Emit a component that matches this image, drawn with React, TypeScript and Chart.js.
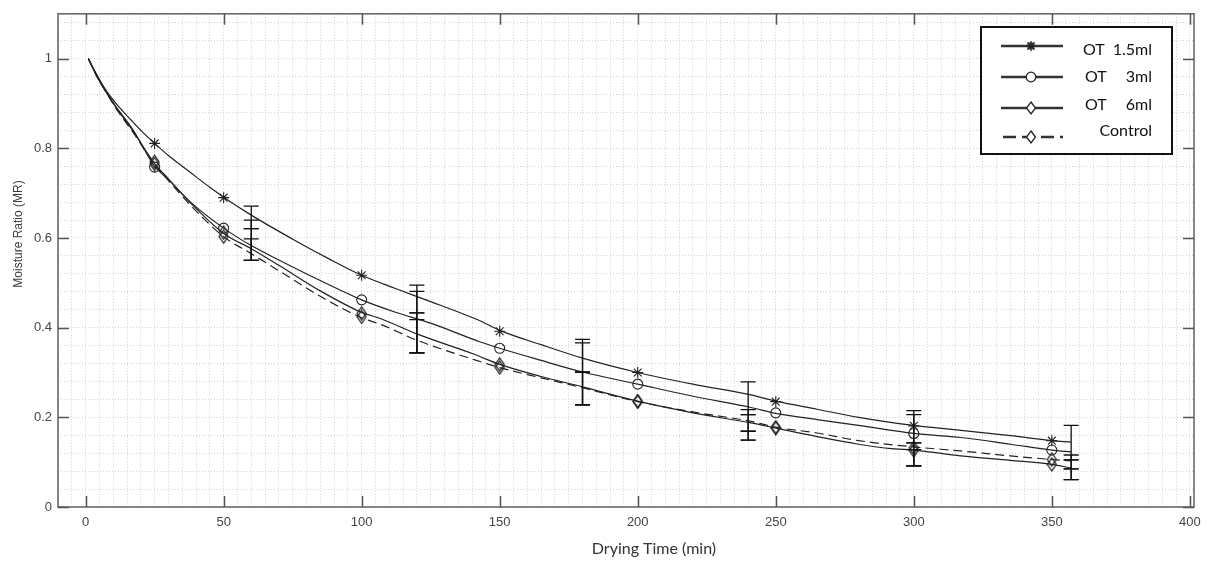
import React, { useEffect, useRef } from 'react';
import { Chart, registerables } from 'chart.js';

Chart.register(...registerables);

// ---- Data ----
const ot15Times = [1, 4, 7, 11, 16, 20, 25, 30, 38, 45, 50, 60, 76, 88, 100, 112, 125, 137, 143, 150, 165, 180, 200, 220, 241, 250, 265, 280, 300, 317, 335, 350, 357];
const ot15Curve = [1.0, 0.965, 0.933, 0.9, 0.866, 0.84, 0.811, 0.784, 0.746, 0.713, 0.691, 0.651, 0.594, 0.554, 0.517, 0.488, 0.458, 0.43, 0.415, 0.394, 0.362, 0.332, 0.3, 0.274, 0.25, 0.236, 0.218, 0.2, 0.182, 0.171, 0.159, 0.148, 0.145];

const ot3Times = [1, 4, 7, 11, 17, 25, 30, 38, 50, 60, 70, 85, 100, 112, 125, 143, 150, 165, 180, 200, 220, 241, 250, 265, 280, 300, 317, 335, 350, 357];
const ot3Curve = [1.0, 0.962, 0.93, 0.893, 0.843, 0.76, 0.73, 0.68, 0.622, 0.583, 0.551, 0.505, 0.462, 0.435, 0.41, 0.368, 0.354, 0.327, 0.301, 0.274, 0.247, 0.222, 0.209, 0.195, 0.182, 0.164, 0.155, 0.14, 0.127, 0.123];

const ot6Times = [1, 4, 7, 11, 17, 25, 30, 38, 50, 60, 70, 85, 100, 107, 120, 141, 150, 165, 180, 200, 220, 241, 250, 265, 280, 292, 300, 317, 335, 350, 357];
const ot6Curve = [1.0, 0.962, 0.93, 0.891, 0.84, 0.766, 0.732, 0.678, 0.61, 0.576, 0.539, 0.482, 0.434, 0.42, 0.386, 0.34, 0.318, 0.291, 0.268, 0.236, 0.21, 0.1875, 0.176, 0.157, 0.14, 0.13, 0.127, 0.114, 0.104, 0.095, 0.087];

const ctrlTimes = [1, 4, 7, 11, 17, 25, 30, 38, 50, 60, 70, 85, 100, 107, 120, 141, 150, 165, 180, 200, 220, 241, 250, 265, 280, 300, 317, 335, 350, 357];
const ctrlCurve = [1.0, 0.961, 0.929, 0.889, 0.837, 0.764, 0.728, 0.673, 0.603, 0.565, 0.527, 0.47, 0.422, 0.407, 0.372, 0.328, 0.311, 0.288, 0.266, 0.235, 0.212, 0.191, 0.178, 0.165, 0.148, 0.134, 0.125, 0.114, 0.106, 0.103];

const markerTimes = [25, 50, 100, 150, 200, 250, 300, 350];
const ot15Markers = [0.811, 0.69, 0.517, 0.392, 0.3, 0.235, 0.181, 0.148];
const ot3Markers = [0.758, 0.622, 0.462, 0.354, 0.274, 0.21, 0.164, 0.127];
const ot6Markers = [0.77, 0.612, 0.432, 0.318, 0.235, 0.176, 0.126, 0.095];
const ctrlMarkers = [0.765, 0.603, 0.424, 0.311, 0.236, 0.178, 0.132, 0.106];

const errorTimes = [60, 120, 180, 240, 300, 357];
const ot15Low = [0.621, 0.433, 0.301, 0.206, 0.143, 0.105];
const ot15High = [0.671, 0.495, 0.374, 0.279, 0.215, 0.182];
const ot3Low = [0.55, 0.344, 0.228, 0.169, 0.092, 0.085];
const ot3High = [0.64, 0.481, 0.366, 0.217, 0.206, 0.116];
const ot6Low = [0.55, 0.344, 0.228, 0.149, 0.092, 0.061];
const ot6High = [0.598, 0.418, 0.301, 0.206, 0.143, 0.105];
const ctrlLow = [0.55, 0.344, 0.228, 0.149, 0.092, 0.061];
const ctrlHigh = [0.621, 0.433, 0.301, 0.169, 0.128, 0.085];

const xMajorTicks = [0, 50, 100, 150, 200, 250, 300, 350, 400];
const yMajorTicks = [0, 0.2, 0.4, 0.6, 0.8, 1];

const seriesNames = ['OT  1.5ml', 'OT    3ml', 'OT    6ml', 'Control'];

const LINE = '#222222';

function pts(t: number[], v: number[]) {
  return t.map((x, i) => ({ x, y: v[i] }));
}

function makeDiamond(): HTMLCanvasElement {
  const c = document.createElement('canvas');
  c.width = 11;
  c.height = 15;
  const g = c.getContext('2d')!;
  g.strokeStyle = '#111';
  g.lineWidth = 1.2;
  g.beginPath();
  g.moveTo(5.5, 1);
  g.lineTo(10, 7.5);
  g.lineTo(5.5, 14);
  g.lineTo(1, 7.5);
  g.closePath();
  g.stroke();
  return c;
}

const errorPlugin = {
  id: 'errorBars',
  afterDatasetsDraw(chart: any) {
    const { ctx, scales } = chart;
    const xs = scales.x;
    const ys = scales.y;
    const groups = [
      [ot15Low, ot15High],
      [ot3Low, ot3High],
      [ot6Low, ot6High],
      [ctrlLow, ctrlHigh],
    ];
    ctx.save();
    ctx.strokeStyle = '#111';
    ctx.lineWidth = 1.3;
    groups.forEach(([lo, hi]) => {
      errorTimes.forEach((t, i) => {
        const px = xs.getPixelForValue(t);
        const pl = ys.getPixelForValue(lo[i]);
        const ph = ys.getPixelForValue(hi[i]);
        ctx.beginPath();
        ctx.moveTo(px, pl);
        ctx.lineTo(px, ph);
        ctx.moveTo(px - 7.5, pl);
        ctx.lineTo(px + 7.5, pl);
        ctx.moveTo(px - 7.5, ph);
        ctx.lineTo(px + 7.5, ph);
        ctx.stroke();
      });
    });
    ctx.restore();
  },
};

const framePlugin = {
  id: 'frameTicks',
  afterDraw(chart: any) {
    const { ctx, chartArea, scales } = chart;
    const { left, right, top, bottom } = chartArea;
    ctx.save();
    ctx.strokeStyle = '#6a6a6a';
    ctx.lineWidth = 1.6;
    ctx.strokeRect(left, top, right - left, bottom - top);
    ctx.lineWidth = 1.5;
    ctx.strokeStyle = '#555';
    ctx.beginPath();
    xMajorTicks.forEach((v) => {
      const px = Math.round(scales.x.getPixelForValue(v)) + 0.5;
      ctx.moveTo(px, bottom);
      ctx.lineTo(px, bottom - 11);
      ctx.moveTo(px, top);
      ctx.lineTo(px, top + 11);
    });
    yMajorTicks.forEach((v) => {
      const py = Math.round(scales.y.getPixelForValue(v)) + 0.5;
      ctx.moveTo(left, py);
      ctx.lineTo(left + 11, py);
      ctx.moveTo(right, py);
      ctx.lineTo(right - 11, py);
    });
    ctx.stroke();

    // axis titles
    ctx.fillStyle = '#333';
    ctx.textAlign = 'center';
    ctx.textBaseline = 'middle';
    ctx.font = '16px Lato, "Open Sans", sans-serif';
    ctx.fillText('Drying Time (min)', 654, 549);
    ctx.save();
    ctx.translate(19, 234);
    ctx.rotate(-Math.PI / 2);
    ctx.font = '12px "Liberation Sans", Arial, sans-serif';
    ctx.fillStyle = '#3a3a3a';
    ctx.fillText('Moisture Ratio (MR)', 0, 0);
    ctx.restore();

    // legend
    const bx = 981, by = 27, bw = 191, bh = 127;
    ctx.fillStyle = '#fff';
    ctx.fillRect(bx, by, bw, bh);
    ctx.strokeStyle = '#111';
    ctx.lineWidth = 2;
    ctx.strokeRect(bx, by, bw, bh);
    const lineYs = [46, 77, 108, 137];
    const textYs = [50, 77, 105, 131];
    const mx = 1031;
    lineYs.forEach((ly, i) => {
      ctx.save();
      ctx.strokeStyle = '#333';
      ctx.lineWidth = 2.4;
      if (i === 3) ctx.setLineDash([13, 6]);
      ctx.beginPath();
      ctx.moveTo(i === 3 ? 1003 : 1001, ly);
      ctx.lineTo(1063, ly);
      ctx.stroke();
      ctx.restore();
      ctx.save();
      ctx.strokeStyle = '#222';
      ctx.lineWidth = 1.3;
      ctx.fillStyle = '#fff';
      if (i === 0) {
        ctx.fillStyle = '#555';
        ctx.fillRect(mx - 3.5, ly - 3.5, 7, 7);
        ctx.beginPath();
        for (let k = 0; k < 4; k++) {
          const a = (k * Math.PI) / 4;
          ctx.moveTo(mx - 5 * Math.cos(a), ly - 5 * Math.sin(a));
          ctx.lineTo(mx + 5 * Math.cos(a), ly + 5 * Math.sin(a));
        }
        ctx.stroke();
      } else if (i === 1) {
        ctx.beginPath();
        ctx.arc(mx, ly, 4.8, 0, Math.PI * 2);
        ctx.fill();
        ctx.stroke();
      } else {
        ctx.beginPath();
        ctx.moveTo(mx, ly - 6);
        ctx.lineTo(mx + 4.5, ly);
        ctx.lineTo(mx, ly + 6);
        ctx.lineTo(mx - 4.5, ly);
        ctx.closePath();
        ctx.fill();
        ctx.stroke();
      }
      ctx.restore();
    });
    ctx.fillStyle = '#111';
    ctx.font = '16px Lato, "Open Sans", sans-serif';
    ctx.textBaseline = 'middle';
    seriesNames.forEach((name, i) => {
      if (name.startsWith('OT')) {
        const rest = name.slice(2).trim();
        ctx.textAlign = 'left';
        ctx.fillText('OT', i === 0 ? 1083 : 1085, textYs[i]);
        ctx.textAlign = 'right';
        ctx.fillText(rest, 1152, textYs[i]);
      } else {
        ctx.textAlign = 'right';
        ctx.fillText(name, 1152, textYs[i]);
      }
    });
    ctx.restore();
  },
};

export default function App() {
  const ref = useRef<HTMLCanvasElement>(null);
  useEffect(() => {
    const diamond = makeDiamond();
    const lineDs = (label: string, t: number[], v: number[], dash: number[] = []) => ({
      label,
      data: pts(t, v),
      borderColor: LINE,
      borderWidth: 1.2,
      borderDash: dash,
      pointRadius: 0,
      fill: false,
      tension: 0.4,
      cubicInterpolationMode: 'monotone' as const,
    });
    const markDs = (label: string, v: number[], style: any, radius: number) => ({
      label,
      data: pts(markerTimes, v),
      showLine: false,
      borderColor: LINE,
      backgroundColor: 'rgba(0,0,0,0)',
      pointStyle: style,
      pointRadius: radius,
      pointBorderWidth: 1.1,
      pointBorderColor: LINE,
    });
    const tickFont = { family: '"Liberation Sans", Arial, sans-serif', size: 13 };
    const chart = new Chart(ref.current!, {
      type: 'line',
      data: {
        datasets: [
          lineDs(seriesNames[0], ot15Times, ot15Curve),
          lineDs(seriesNames[1], ot3Times, ot3Curve),
          lineDs(seriesNames[2], ot6Times, ot6Curve),
          lineDs(seriesNames[3], ctrlTimes, ctrlCurve, [9, 5]),
          markDs(seriesNames[0] + ' pts', ot15Markers, 'star', 5.5),
          markDs(seriesNames[1] + ' pts', ot3Markers, 'circle', 5),
          markDs(seriesNames[2] + ' pts', ot6Markers, diamond, 6),
          markDs(seriesNames[3] + ' pts', ctrlMarkers, diamond, 6),
        ] as any,
      },
      options: {
        responsive: false,
        animation: false,
        layout: { padding: { left: 0, top: 7, right: 19, bottom: 0 } },
        plugins: {
          legend: { display: false },
          tooltip: { enabled: false },
        },
        scales: {
          x: {
            type: 'linear',
            min: -10,
            max: 401.5,
            afterFit: (s: any) => {
              s.height = 57;
            },
            grid: { color: '#d2d2d2', lineWidth: 1, drawTicks: false },
            border: { display: false, dash: [1, 2] },
            ticks: {
              stepSize: 5,
              includeBounds: false,
              autoSkip: false,
              maxRotation: 0,
              padding: 8,
              color: '#444',
              font: tickFont,
              callback: (value: any) => {
                const v = Number(value);
                const r = Math.round(v / 50) * 50;
                return Math.abs(v - r) < 1e-6 && r >= 0 && r <= 400 ? String(r) : '';
              },
            },
          },
          y: {
            type: 'linear',
            min: 0,
            max: 1.1,
            afterFit: (s: any) => {
              s.width = 58;
            },
            grid: { color: '#d2d2d2', lineWidth: 1, drawTicks: false },
            border: { display: false, dash: [1, 2] },
            ticks: {
              stepSize: 0.04,
              includeBounds: false,
              autoSkip: false,
              padding: 6,
              color: '#444',
              font: tickFont,
              callback: (value: any) => {
                const v = Number(value);
                const r = Math.round(v / 0.2) * 0.2;
                return Math.abs(v - r) < 1e-6 && r <= 1.0001 ? String(Math.round(r * 10) / 10) : '';
              },
            },
          },
        },
      } as any,
      plugins: [errorPlugin, framePlugin],
    });
    return () => chart.destroy();
  }, []);
  return (
    <div style={{ position: 'absolute', left: 0, top: 0, width: 1213, height: 564, background: '#fff' }}>
      <canvas ref={ref} width={1213} height={564} style={{ display: 'block', width: 1213, height: 564 }} />
    </div>
  );
}
